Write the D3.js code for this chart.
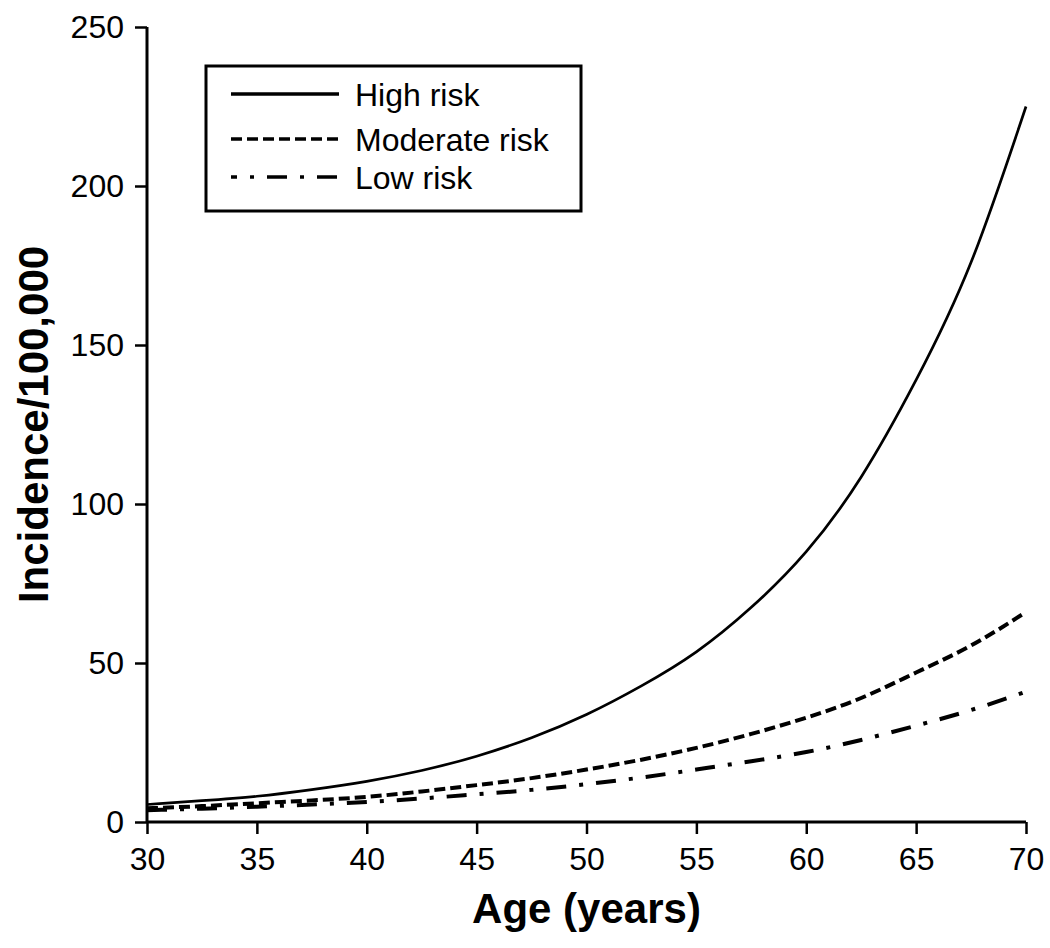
<!DOCTYPE html>
<html>
<head>
<meta charset="utf-8">
<script src="https://cdn.jsdelivr.net/npm/d3@7"></script>
<style>
  html, body { margin: 0; padding: 0; background: #fff; }
  svg { display: block; }
  text { font-family: "Liberation Sans", Arial, Helvetica, sans-serif; fill: #000; }
</style>
</head>
<body>
<svg id="chart" width="1050" height="948"></svg>
<script>
// ---- data ----
const ages = [30, 32.5, 35, 37.5, 40, 42.5, 45, 47.5, 50, 52.5, 55, 57.5, 60, 62.5, 65, 67.5, 70];
const highRisk     = [5.5, 6.7, 8.1, 10.2, 12.8, 16.2, 20.7, 26.5, 33.8, 42.8, 53.5, 67.5, 85, 108.5, 139, 176, 225];
const moderateRisk = [4.3, 5.0, 5.9, 6.8, 7.9, 9.6, 11.6, 13.8, 16.5, 19.6, 23.3, 27.7, 32.8, 39, 47, 55.5, 66];
const lowRisk      = [3.7, 4.2, 4.8, 5.5, 6.3, 7.4, 8.7, 10.1, 11.9, 14, 16.5, 19.1, 22, 25.8, 30.3, 35.2, 41];
const seriesNames  = ["High risk", "Moderate risk", "Low risk"];
const xTicks = [30, 35, 40, 45, 50, 55, 60, 65, 70];
const yTicks = [0, 50, 100, 150, 200, 250];
const xTitle = "Age (years)";
const yTitle = "Incidence/100,000";

// ---- styles ----
const styles = [
  { width: 2.7, dash: null },
  { width: 4, dash: "11,5" },
  { width: 4, dash: "20,13,4,13" }
];

const svg = d3.select("#chart");
const x = d3.scaleLinear().domain([30, 70]).range([147, 1026]);
const y = d3.scaleLinear().domain([0, 250]).range([822, 27]);

const seriesData = [highRisk, moderateRisk, lowRisk].map(vals => ages.map((a, i) => [a, vals[i]]));

const line = d3.line()
  .x(d => x(d[0]))
  .y(d => y(d[1]))
  .curve(d3.curveNatural);

// series lines
svg.append("g").selectAll("path")
  .data(seriesData)
  .join("path")
  .attr("d", line)
  .attr("fill", "none")
  .attr("stroke", "#000")
  .attr("stroke-width", (d, i) => styles[i].width)
  .attr("stroke-dasharray", (d, i) => styles[i].dash);

// x axis
const xAxis = svg.append("g")
  .attr("transform", `translate(0,${y(0)})`)
  .call(d3.axisBottom(x).tickValues(xTicks).tickSize(12).tickPadding(13).tickSizeOuter(0));
xAxis.select(".domain").attr("stroke-width", 3).attr("d", `M${x(30)},0H${x(70)}`);
xAxis.selectAll(".tick line").attr("stroke-width", 2.5);
xAxis.selectAll(".tick text")
  .style("font-family", '"Liberation Sans", Arial, sans-serif')
  .style("font-size", "32px")
  .attr("fill", "#000");

// y axis
const yAxis = svg.append("g")
  .attr("transform", `translate(${x(30)},0)`)
  .call(d3.axisLeft(y).tickValues(yTicks).tickSize(12).tickPadding(11).tickSizeOuter(0));
yAxis.select(".domain").attr("stroke-width", 3).attr("d", `M0,${y(250)}V${y(0)}`);
yAxis.selectAll(".tick line").attr("stroke-width", 2.5);
yAxis.selectAll(".tick text")
  .style("font-family", '"Liberation Sans", Arial, sans-serif')
  .style("font-size", "32px")
  .attr("fill", "#000");

// axis titles
svg.append("text")
  .attr("x", (x(30) + x(70)) / 2)
  .attr("y", 923)
  .attr("text-anchor", "middle")
  .style("font-size", "42px")
  .style("font-weight", "bold")
  .text(xTitle);

svg.append("text")
  .attr("transform", `translate(48,${(y(0) + y(250)) / 2}) rotate(-90)`)
  .attr("text-anchor", "middle")
  .style("font-size", "42px")
  .style("font-weight", "bold")
  .text(yTitle);

// legend
const legend = svg.append("g");
legend.append("rect")
  .attr("x", 206).attr("y", 66)
  .attr("width", 375).attr("height", 145)
  .attr("fill", "#fff")
  .attr("stroke", "#000")
  .attr("stroke-width", 3);

const legendY = [94, 139, 177];
seriesNames.forEach((name, i) => {
  legend.append("line")
    .attr("x1", 231).attr("x2", 339)
    .attr("y1", legendY[i]).attr("y2", legendY[i])
    .attr("stroke", "#000")
    .attr("stroke-width", i === 0 ? 3.3 : 3.5)
    .attr("stroke-dasharray", styles[i].dash)
    .attr("stroke-dashoffset", i === 2 ? 14 : 0);
  legend.append("text")
    .attr("x", 355)
    .attr("y", legendY[i] + 12)
    .style("font-size", "32px")
    .text(name);
});
</script>
</body>
</html>
